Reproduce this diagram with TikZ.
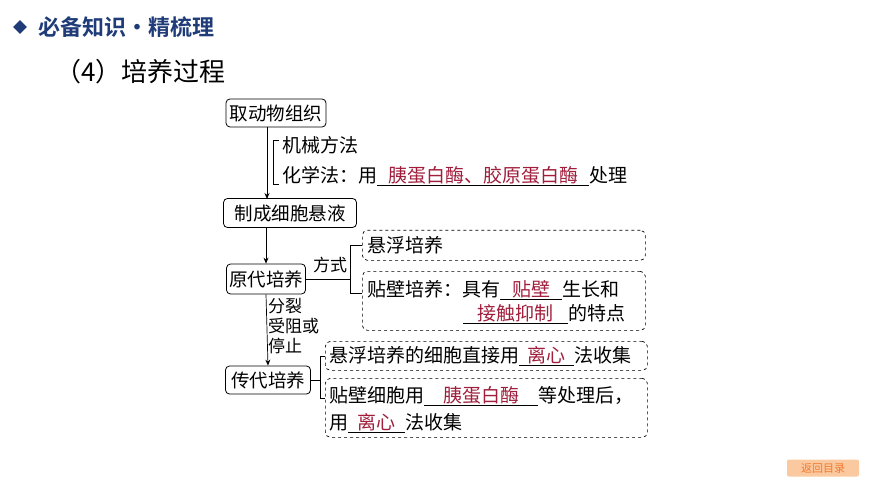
\documentclass[tikz,border=0pt]{standalone}
\usepackage{fontspec}
\setmainfont{Noto Sans CJK SC}
\newfontfamily\cjkb{Noto Sans CJK SC Bold}
\usetikzlibrary{arrows.meta,shapes.geometric}
\definecolor{hblue}{HTML}{1F3C78}
\definecolor{ans}{HTML}{A01E3C}
\definecolor{btn}{HTML}{FBC9A0}
\definecolor{btnt}{HTML}{F07A30}
\newcommand\fillin[2]{\underline{\makebox[#1][c]{\textcolor{ans}{#2}}}}
\tikzset{
  solidbox/.style={draw,rounded corners=4pt,line width=0.8pt,inner sep=2pt,font=\fontsize{18.5}{20}\selectfont},
  dbox/.style={draw,dashed,rounded corners=5pt,line width=0.7pt,anchor=north west,inner sep=0pt},
  txt/.style={font=\fontsize{19}{21}\selectfont,inner sep=0pt,anchor=west},
  ar/.style={-{Stealth[length=6pt,width=5pt]},line width=0.7pt},
  ln/.style={line width=0.7pt}
}
\begin{document}
\begin{tikzpicture}[x=1pt,y=-1pt]
\useasboundingbox (0,0) rectangle (870,489);
\node[diamond,fill=hblue,minimum size=14pt,inner sep=0pt] (dia) at (20,27) {};
\node[anchor=west,inner sep=0pt,text=hblue,font=\cjkb\fontsize{22}{24}\selectfont] (hdr) at (38,27) {必备知识·精梳理};
\node[anchor=west,inner sep=0pt,font=\fontsize{26}{28}\selectfont] (ttl) at (55,72) {（4）培养过程};

\node[solidbox,minimum width=100pt,minimum height=28pt] (b1) at (276,113) {取动物组织};
\node[solidbox,minimum width=133pt,minimum height=29pt] (b2) at (290,213) {制成细胞悬液};
\node[solidbox,minimum width=79pt,minimum height=30pt] (b3) at (266,279) {原代培养};
\node[solidbox,minimum width=85pt,minimum height=28pt] (b4) at (268,380) {传代培养};

\coordinate (a1) at (267,127);
\coordinate (a2) at (267,199);
\draw[ar] (a1) -- (a2);
\draw[ln] (279,140) -- (273,140) -- (273,184) -- (279,184);
\node[txt] (t1) at (282,145) {机械方法};
\node[txt] (t2) at (282,176) {化学法：用\fillin{212pt}{胰蛋白酶、胶原蛋白酶}处理};

\draw[ar] (b2.south -| b3) -- (b3.north);
\draw[ar] (b3.south) -- (b4.north);
\node[txt,align=left,anchor=north west,font=\fontsize{17}{20}\selectfont] (lab) at (268,298) {分裂\\受阻或\\停止};

\node[dbox,minimum width=283pt,minimum height=30pt] (da) at (362,230) {};
\node[txt] at (367,245) {悬浮培养};
\node[dbox,minimum width=283pt,minimum height=59pt] (db) at (362,271) {};
\node[txt] at (367,290) {贴壁培养：具有\fillin{62pt}{贴壁}生长和};
\node[txt] at (463,314) {\fillin{105pt}{接触抑制}的特点};

\coordinate (j3) at (350,279);
\draw[ln] (b3.east) -- (j3);
\node[inner sep=0pt,font=\fontsize{17}{19}\selectfont] (fs) at (330,265) {方式};
\draw[ln] (362,245) -- (350,245) -- (350,293) -- (362,293);

\node[dbox,minimum width=322pt,minimum height=29pt] (dc) at (325,341) {};
\node[txt] at (329,356) {悬浮培养的细胞直接用\fillin{55pt}{离心}法收集};
\node[dbox,minimum width=322pt,minimum height=59pt] (dd) at (325,378) {};
\node[txt] at (329,396) {贴壁细胞用\fillin{114pt}{胰蛋白酶}等处理后，};
\node[txt] at (329,423) {用\fillin{57pt}{离心}法收集};
\coordinate (j4) at (320,380);
\draw[ln] (b4.east) -- (j4);
\draw[ln] (325,356) -- (320,356) -- (320,398) -- (325,398);

\node[fill=btn,rounded corners=2pt,minimum width=72pt,minimum height=17pt,inner sep=0pt,text=btnt,font=\fontsize{11}{12}\selectfont] (btn) at (823,468) {返回目录};
\end{tikzpicture}
\end{document}
